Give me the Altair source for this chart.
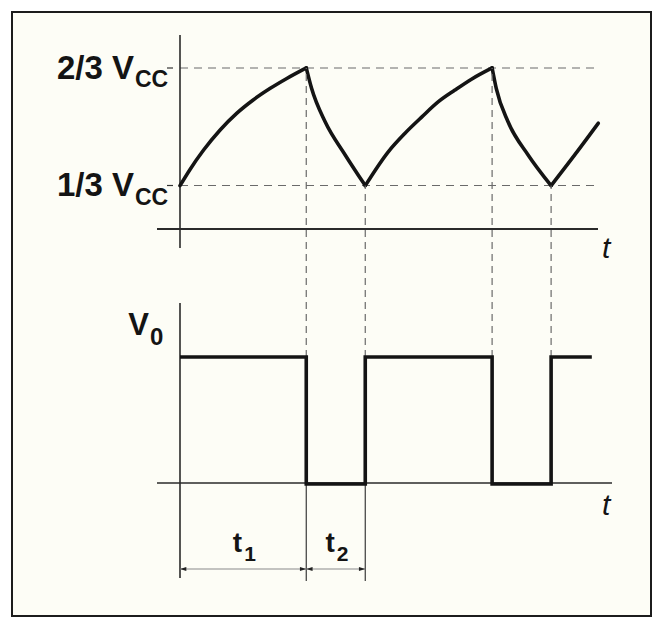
import altair as alt
import pandas as pd

# ---------------- data ----------------
# capacitor voltage, in fractions of Vcc, time in arbitrary units (t2 ~ 1)
charge1_t = [0.00, 0.17, 0.40, 0.68, 0.96, 1.24, 1.53, 1.81, 2.14]
charge1_v = [0.333, 0.379, 0.434, 0.491, 0.538, 0.576, 0.609, 0.637, 0.667]
discharge1_t = [2.14, 2.23, 2.46, 2.80, 3.14]
discharge1_v = [0.667, 0.609, 0.514, 0.420, 0.333]
charge2_t = [3.14, 3.53, 3.81, 4.10, 4.38, 4.66, 4.94, 5.29]
charge2_v = [0.333, 0.429, 0.481, 0.528, 0.571, 0.604, 0.635, 0.667]
discharge2_t = [5.29, 5.36, 5.56, 5.90, 6.29]
discharge2_v = [0.667, 0.609, 0.514, 0.420, 0.333]
charge3_t = [6.29, 6.69, 7.09]
charge3_v = [0.333, 0.420, 0.510]

# output voltage V0 (high = 1, low = 0)
out_t = [0, 2.14, 2.14, 3.14, 3.14, 5.29, 5.29, 6.29, 6.29, 6.98]
out_v = [1, 1, 0, 0, 1, 1, 0, 0, 1, 1]

# threshold levels
levels = [1 / 3, 2 / 3]
level_labels = ["1/3 V", "2/3 V"]
level_sub = ["CC", "CC"]

# switching instants and the capacitor level at each
event_t = [2.14, 3.14, 5.29, 6.29]
event_v = [2 / 3, 1 / 3, 2 / 3, 1 / 3]

# dimension intervals
dim_names = ["t", "t"]
dim_subs = ["1", "2"]
dim_start = [0.0, 2.14]
dim_end = [2.14, 3.14]

# ---------------- layout ----------------
W, H = 639, 604
FX, FY = 12, 12          # page position of the frame
T0_PX, PX_PER_T = 180, 59
TOP_LO_PX, PX_PER_VTOP = 185.5, 352.5
BOT_LO_PX, PX_PER_VBOT = 484, 127


def t_at(px):
    return (px - T0_PX) / PX_PER_T


def vtop_at(py):
    return 1 / 3 + (TOP_LO_PX - py) / PX_PER_VTOP


def py_top(v):
    return TOP_LO_PX - (v - 1 / 3) * PX_PER_VTOP


def vbot_at(py):
    return (BOT_LO_PX - py) / PX_PER_VBOT


xs = alt.Scale(domain=[t_at(FX), t_at(FX + W)], nice=False, zero=False)
yts = alt.Scale(domain=[vtop_at(FY + H), vtop_at(FY)], nice=False, zero=False)
ybs = alt.Scale(domain=[vbot_at(FY + H), vbot_at(FY)], nice=False, zero=False)

INK = "#141414"
FONT = "Liberation Sans"


def X(f):
    return alt.X(f, type="quantitative", scale=xs, axis=None)


def YT(f):
    return alt.Y(f, type="quantitative", scale=yts, axis=None)


def YB(f):
    return alt.Y(f, type="quantitative", scale=ybs, axis=None)


# ---------------- top panel ----------------
segs = []
for k, (tt, vv) in enumerate([(charge1_t, charge1_v), (discharge1_t, discharge1_v),
                              (charge2_t, charge2_v), (discharge2_t, discharge2_v),
                              (charge3_t, charge3_v)]):
    for a, b in zip(tt, vv):
        segs.append({"seg": k, "t": a, "v": b})
cap_df = pd.DataFrame(segs)

lev_df = pd.DataFrame({"v": levels, "lab": level_labels, "sub": level_sub,
                       "t0": [0.0, 0.0], "t1": [t_at(600)] * 2,
                       "k0": [t_at(167)] * 2, "k1": [t_at(173)] * 2})

thresh = alt.Chart(lev_df).mark_rule(color="#6a6a6a", strokeWidth=1.2, strokeDash=[8, 6]).encode(
    x=X("t0"), x2=alt.X2("t1"), y=YT("v"))
ticks = alt.Chart(lev_df).mark_rule(color="#333", strokeWidth=1.2).encode(
    x=X("k0"), x2=alt.X2("k1"), y=YT("v"))

top_axes_v = alt.Chart(pd.DataFrame({"t": [0.0], "a": [vtop_at(35)], "b": [vtop_at(248)]})).mark_rule(
    color="#2a2a2a", strokeWidth=1.6).encode(x=X("t"), y=YT("a"), y2=alt.Y2("b"))
top_axes_h = alt.Chart(pd.DataFrame({"a": [t_at(157)], "b": [t_at(598)], "v": [vtop_at(229)]})).mark_rule(
    color="#2a2a2a", strokeWidth=1.8).encode(x=X("a"), x2=alt.X2("b"), y=YT("v"))

cap_line = alt.Chart(cap_df).mark_line(color=INK, strokeWidth=3.6, interpolate="monotone",
                                       strokeCap="round").encode(
    x=X("t"), y=YT("v"), detail="seg:N")

lab_main = alt.Chart(lev_df).mark_text(font=FONT, fontWeight="bold", fontSize=33, align="right",
                                       baseline="alphabetic", dx=-46, dy=10.5, color=INK).encode(
    x=X("t0"), y=YT("v"), text="lab:N")
lab_sub = alt.Chart(lev_df).mark_text(font=FONT, fontWeight="bold", fontSize=23, align="left",
                                      baseline="alphabetic", dx=-45, dy=19, color=INK).encode(
    x=X("t0"), y=YT("v"), text="sub:N")

t_top = alt.Chart(pd.DataFrame({"t": [t_at(598)], "v": [vtop_at(229)], "s": ["t"]})).mark_text(
    font=FONT, fontStyle="italic", fontSize=30, align="left", baseline="alphabetic",
    dx=4, dy=29, color=INK).encode(x=X("t"), y=YT("v"), text="s:N")

top = alt.layer(thresh, ticks, top_axes_v, top_axes_h, cap_line, lab_main, lab_sub, t_top)

# ---------------- bottom panel ----------------
out_df = pd.DataFrame({"t": out_t, "v": out_v, "i": list(range(len(out_t)))})
ev_df = pd.DataFrame({"t": event_t, "lo": [1.0] * len(event_t),
                      "hi": [vbot_at(py_top(v)) for v in event_v]})

proj = alt.Chart(ev_df).mark_rule(color="#6a6a6a", strokeWidth=1.2, strokeDash=[7, 5]).encode(
    x=X("t"), y=YB("lo"), y2=alt.Y2("hi"))

bot_axes_v = alt.Chart(pd.DataFrame({"t": [0.0], "a": [vbot_at(303)], "b": [vbot_at(578)]})).mark_rule(
    color="#2a2a2a", strokeWidth=1.6).encode(x=X("t"), y=YB("a"), y2=alt.Y2("b"))
bot_axes_h = alt.Chart(pd.DataFrame({"a": [t_at(157)], "b": [t_at(612)], "v": [vbot_at(483)]})).mark_rule(
    color="#2a2a2a", strokeWidth=1.6).encode(x=X("a"), x2=alt.X2("b"), y=YB("v"))

out_line = alt.Chart(out_df).mark_line(color=INK, strokeWidth=3.6, strokeJoin="miter",
                                       interpolate="linear").encode(
    x=X("t"), y=YB("v"), order="i:Q")

dim_df = pd.DataFrame({"name": dim_names, "sub": dim_subs, "a": dim_start, "b": dim_end,
                       "mid": [(s + e) / 2 for s, e in zip(dim_start, dim_end)],
                       "y": [vbot_at(569)] * 2})
ext_df = pd.DataFrame({"t": dim_end, "a": [vbot_at(483)] * 2, "b": [vbot_at(581)] * 2})
ext = alt.Chart(ext_df).mark_rule(color="#3a3a3a", strokeWidth=1.2).encode(
    x=X("t"), y=YB("a"), y2=alt.Y2("b"))
dim_line = alt.Chart(dim_df).mark_rule(color="#8a8a8a", strokeWidth=1.1).encode(
    x=X("a"), x2=alt.X2("b"), y=YB("y"))

arrow_df = pd.DataFrame({"t": [dim_start[0], dim_end[0], dim_start[1], dim_end[1]],
                         "dir": ["L", "R", "L", "R"], "y": [vbot_at(569)] * 4})
arrows = alt.Chart(arrow_df).mark_point(filled=True, color="#222", opacity=1, size=160).encode(
    x=X("t"), y=YB("y"),
    shape=alt.Shape("dir:N", scale=alt.Scale(domain=["L", "R"],
                                             range=["M0,0L1,-0.32L1,0.32Z", "M0,0L-1,-0.32L-1,0.32Z"]),
                    legend=None))

dim_t = alt.Chart(dim_df).mark_text(font=FONT, fontWeight="bold", fontSize=28, align="right",
                                    baseline="alphabetic", dx=-1, dy=-17, color=INK).encode(
    x=X("mid"), y=YB("y"), text="name:N")
dim_s = alt.Chart(dim_df).mark_text(font=FONT, fontWeight="bold", fontSize=21, align="left",
                                    baseline="alphabetic", dx=1, dy=-8, color=INK).encode(
    x=X("mid"), y=YB("y"), text="sub:N")

v0_df = pd.DataFrame({"t": [0.0], "v": [1.0], "m": ["V"], "s": ["0"]})
v0_main = alt.Chart(v0_df).mark_text(font=FONT, fontWeight="bold", fontSize=31, align="right",
                                     baseline="alphabetic", dx=-31, dy=-22, color=INK).encode(
    x=X("t"), y=YB("v"), text="m:N")
v0_sub = alt.Chart(v0_df).mark_text(font=FONT, fontWeight="bold", fontSize=24, align="left",
                                    baseline="alphabetic", dx=-30, dy=-12, color=INK).encode(
    x=X("t"), y=YB("v"), text="s:N")

t_bot = alt.Chart(pd.DataFrame({"t": [t_at(612)], "v": [vbot_at(483)], "s": ["t"]})).mark_text(
    font=FONT, fontStyle="italic", fontSize=30, align="left", baseline="alphabetic",
    dx=-10, dy=32, color=INK).encode(x=X("t"), y=YB("v"), text="s:N")

bottom = alt.layer(proj, bot_axes_v, bot_axes_h, ext, dim_line, arrows, out_line,
                   dim_t, dim_s, v0_main, v0_sub, t_bot)

chart = alt.layer(top, bottom).resolve_scale(y="independent").properties(
    width=W, height=H,
    autosize=alt.AutoSizeParams(type="none"),
    padding={"left": FX - 8, "top": FY - 8, "right": 1, "bottom": 1},
    background="white",
).configure_view(fill="#fdfdf6", stroke="#1c1c1c", strokeWidth=2)

chart.save("out.html", embed_options={"renderer": "svg", "actions": False})
